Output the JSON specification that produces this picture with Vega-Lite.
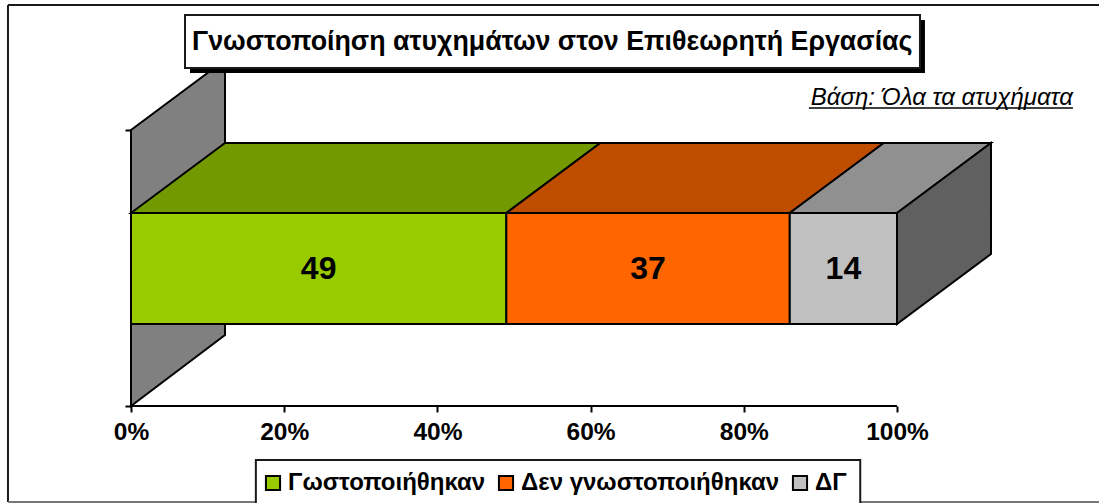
{"$schema":"https://vega.github.io/schema/vega-lite/v6.json","width":1099,"height":503,"padding":0,"autosize":{"type":"none"},"background":"white",
"config":{"view":{"stroke":null},"font":"Liberation Sans","legend":{"orient":"none"}},
"resolve":{"axis":{"x":"independent","y":"independent"}},
"datasets":{"shares":[{"group":"Γωστοποιήθηκαν","share":49,"order":1},{"group":"Δεν γνωστοποιήθηκαν","share":37,"order":2},{"group":"ΔΓ","share":14,"order":3}],
"faces":[
{"face":"wall","pct":0,"low":0,"high":276},{"face":"wall","pct":12.27,"low":71,"high":346},
{"face":"top1","pct":0,"low":193,"high":193},{"face":"top1","pct":12.27,"low":193,"high":263},{"face":"top1","pct":49,"low":193,"high":263},{"face":"top1","pct":61.27,"low":263,"high":263},
{"face":"top2","pct":49,"low":193,"high":193},{"face":"top2","pct":61.27,"low":193,"high":263},{"face":"top2","pct":86,"low":193,"high":263},{"face":"top2","pct":98.27,"low":263,"high":263},
{"face":"top3","pct":86,"low":193,"high":193},{"face":"top3","pct":98.27,"low":193,"high":263},{"face":"top3","pct":100,"low":193,"high":263},{"face":"top3","pct":112.27,"low":263,"high":263},
{"face":"side","pct":100,"low":82,"high":193},{"face":"side","pct":112.27,"low":152,"high":263}
]},
"layer":[
{"data":{"values":[{"a":1}]},"mark":{"type":"rule","stroke":"#1a1a1a","strokeWidth":2},"encoding":{"x":{"datum":-16.06,"type":"quantitative","scale":{"domain":[-17.102,126.371],"nice":false,"zero":false},"axis":{"values":[0,20,40,60,80,100],"labelExpr":"datum.value+'%'","title":null,"grid":false,"domain":false,"offset":-97,"tickSize":6,"tickWidth":2,"tickColor":"black","labelFont":"Liberation Sans","labelFontWeight":"bold","labelFontSize":24.5,"labelColor":"black","labelPadding":8,"labelFlush":false,"labelOverlap":false}},"y":{"datum":-96,"type":"quantitative","scale":{"domain":[-97,406],"nice":false,"zero":false},"axis":{"values":[0,276],"labels":false,"title":null,"grid":false,"domain":false,"offset":-131,"tickSize":6,"tickWidth":2,"tickColor":"black"}},"y2":{"datum":401}}},
{"data":{"values":[{"a":1}]},"mark":{"type":"rule","stroke":"#1a1a1a","strokeWidth":2},"encoding":{"y":{"datum":401,"type":"quantitative","axis":null},"x":{"datum":-16.06,"type":"quantitative","axis":null},"x2":{"datum":126.371}}},
{"data":{"values":[{"a":1}]},"mark":{"type":"rule","stroke":"#777777","strokeWidth":2},"encoding":{"y":{"datum":-96,"type":"quantitative","axis":null},"x":{"datum":-16.06,"type":"quantitative","axis":null},"x2":{"datum":126.371}}},
{"data":{"values":[{"a":1}]},"mark":{"type":"rule","stroke":"black","strokeWidth":2},"encoding":{"y":{"datum":0,"type":"quantitative","axis":null},"x":{"datum":0,"type":"quantitative","axis":null},"x2":{"datum":100}}},
{"data":{"name":"faces"},"mark":{"type":"area","orient":"vertical","stroke":"black","strokeWidth":2,"strokeJoin":"miter","opacity":1},"encoding":{"x":{"field":"pct","type":"quantitative","axis":null},"y":{"field":"high","type":"quantitative","axis":null},"y2":{"field":"low"},"fill":{"field":"face","type":"nominal","legend":null,"scale":{"domain":["wall","top1","top2","top3","side"],"range":["#808080","#739900","#BF4D00","#909090","#606060"]}}}},
{"data":{"name":"shares"},"transform":[{"stack":"share","groupby":[],"sort":[{"field":"order","order":"ascending"}],"as":["x0","x1"]}],"mark":{"type":"rect","stroke":"black","strokeWidth":2},"encoding":{"x":{"field":"x0","type":"quantitative","axis":null},"x2":{"field":"x1"},"y":{"datum":193,"type":"quantitative","axis":null},"y2":{"datum":82},"color":{"field":"group","type":"nominal","scale":{"domain":["Γωστοποιήθηκαν","Δεν γνωστοποιήθηκαν","ΔΓ"],"range":["#99CC00","#FF6600","#C0C0C0"]},"legend":{"title":null,"orient":"none","direction":"horizontal","columns":3,"legendX":261,"legendY":471,"padding":0,"symbolType":"square","symbolSize":200,"symbolStrokeColor":"black","symbolStrokeWidth":2,"symbolOpacity":1,"labelFont":"Liberation Sans","labelFontWeight":"bold","labelFontSize":24,"labelColor":"black","labelLimit":400,"labelOffset":3,"columnPadding":8,"zindex":2}}}},
{"data":{"name":"shares"},"transform":[{"stack":"share","groupby":[],"sort":[{"field":"order","order":"ascending"}],"as":["x0","x1"]},{"calculate":"(datum.x0+datum.x1)/2","as":"mid"}],"mark":{"type":"text","font":"Liberation Sans","fontWeight":"bold","fontSize":32,"fill":"black","baseline":"middle","align":"center"},"encoding":{"x":{"field":"mid","type":"quantitative","axis":null},"y":{"datum":137.5,"type":"quantitative","axis":null},"text":{"field":"share","type":"quantitative"}}},
{"data":{"values":[{"a":1}]},"mark":{"type":"rect","fill":"black"},"encoding":{"x":{"datum":7.7,"type":"quantitative","axis":null},"x2":{"datum":103.65},"y":{"datum":386,"type":"quantitative","axis":null},"y2":{"datum":333}}},
{"data":{"values":[{"a":1}]},"mark":{"type":"rect","fill":"white","stroke":"#1a1a1a","strokeWidth":2},"encoding":{"x":{"datum":7.05,"type":"quantitative","axis":null},"x2":{"datum":103},"y":{"datum":391,"type":"quantitative","axis":null},"y2":{"datum":338}}},
{"data":{"values":[{"label":"Γνωστοποίηση ατυχημάτων στον Επιθεωρητή Εργασίας"}]},"mark":{"type":"text","font":"Liberation Sans","fontWeight":"bold","fontSize":26.8,"fill":"black","baseline":"middle","align":"center"},"encoding":{"x":{"datum":55,"type":"quantitative","axis":null},"y":{"datum":364.5,"type":"quantitative","axis":null},"text":{"field":"label"}}},
{"data":{"values":[{"label":"Βάση: Όλα τα ατυχήματα"}]},"mark":{"type":"text","font":"Liberation Sans","fontStyle":"italic","fontSize":24,"fill":"black","baseline":"middle","align":"right"},"encoding":{"x":{"datum":122.97,"type":"quantitative","axis":null},"y":{"datum":308,"type":"quantitative","axis":null},"text":{"field":"label"}}},
{"data":{"values":[{"a":1}]},"mark":{"type":"rule","stroke":"black","strokeWidth":1.5},"encoding":{"y":{"datum":298,"type":"quantitative","axis":null},"x":{"datum":88.5,"type":"quantitative","axis":null},"x2":{"datum":122.97}}},
{"data":{"values":[{"a":1}]},"mark":{"type":"rect","fill":"white","stroke":"#1a1a1a","strokeWidth":2},"encoding":{"x":{"datum":16.3,"type":"quantitative","axis":null},"x2":{"datum":95.2},"y":{"datum":-54,"type":"quantitative","axis":null},"y2":{"datum":-98}}}
]}
